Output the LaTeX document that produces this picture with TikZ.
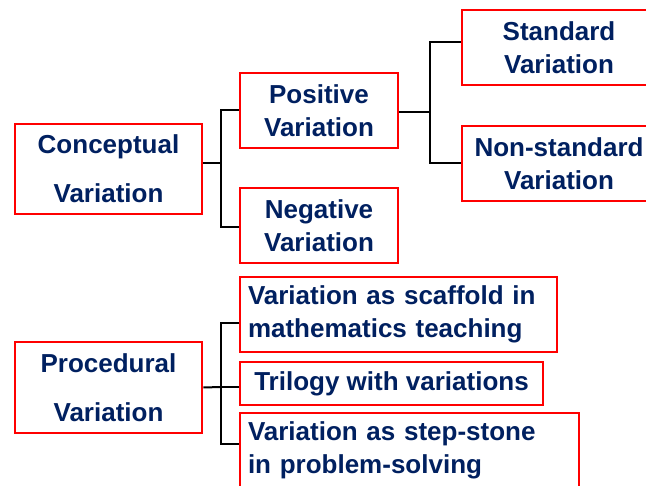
\documentclass[tikz,border=0pt]{standalone}
\usepackage{fontspec}
\setmainfont{Liberation Sans}
\definecolor{navy}{HTML}{002060}
\definecolor{boxred}{HTML}{FF0000}
\tikzset{
  vbox/.style={draw=boxred, line width=2.6pt, rectangle, inner sep=0pt,
    text=navy, font=\bfseries\fontsize{26}{33}\selectfont, align=center},
  tallbox/.style={vbox, font=\bfseries\fontsize{26}{49}\selectfont},
  leftbox/.style={vbox, align=left, inner xsep=8pt},
  conn/.style={draw=black, line width=2pt}
}
\begin{document}
\begin{tikzpicture}[x=1pt,y=-1pt]
\useasboundingbox (0,0) rectangle (646,486);
\fill[white] (0,0) rectangle (646,486);
\clip (0,0) rectangle (646,486);
% conceptual branch
\node[tallbox, minimum width=187pt, minimum height=90pt] (C) at (108.5,169) {Conceptual\\Variation};
\node[vbox, minimum width=158pt, minimum height=75pt] (P) at (319,110.5) {Positive\\Variation};
\node[vbox, minimum width=158pt, minimum height=75pt] (N) at (319,225.5) {Negative\\Variation};
\node[vbox, minimum width=194pt, minimum height=75pt] (S) at (559,47.5) {Standard\\Variation};
\node[vbox, minimum width=194pt, minimum height=75pt] (NS) at (559,163.5) {Non-standard\\Variation};
% procedural branch
\node[tallbox, minimum width=187pt, minimum height=91pt] (PR) at (108.5,387.5) {Procedural\\Variation};
\node[leftbox, text width=301pt, minimum height=75pt] (B1) at (398.5,314.5) {Variation as scaffold in\\mathematics teaching};
\node[vbox, minimum width=303pt, minimum height=43pt] (B2) at (391.5,383.5) {Trilogy with variations};
\node[leftbox, text width=323pt, minimum height=74pt] (B3) at (409.5,450) {Variation as step-stone\\in problem-solving};
% connectors
\coordinate (j1) at (221,163);
\coordinate (j2) at (430,112);
\coordinate (j3) at (221,387);
\draw[conn] ([yshift=6pt]C.east) -- (j1);
\draw[conn] (j1) |- (P.west);
\draw[conn] (j1) |- ([yshift=-1.5pt]N.west);
\draw[conn] ([yshift=-1.5pt]P.east) -- (j2);
\draw[conn] (j2) |- ([yshift=5.5pt]S.west);
\draw[conn] (j2) |- (NS.west);
\draw[conn] (PR.east) -- (j3);
\draw[conn] (j3) |- ([yshift=-8.5pt]B1.west);
\draw[conn] (j3) -- ([yshift=-3.5pt]B2.west);
\draw[conn] (j3) |- ([yshift=5.5pt]B3.west);
\end{tikzpicture}
\end{document}
